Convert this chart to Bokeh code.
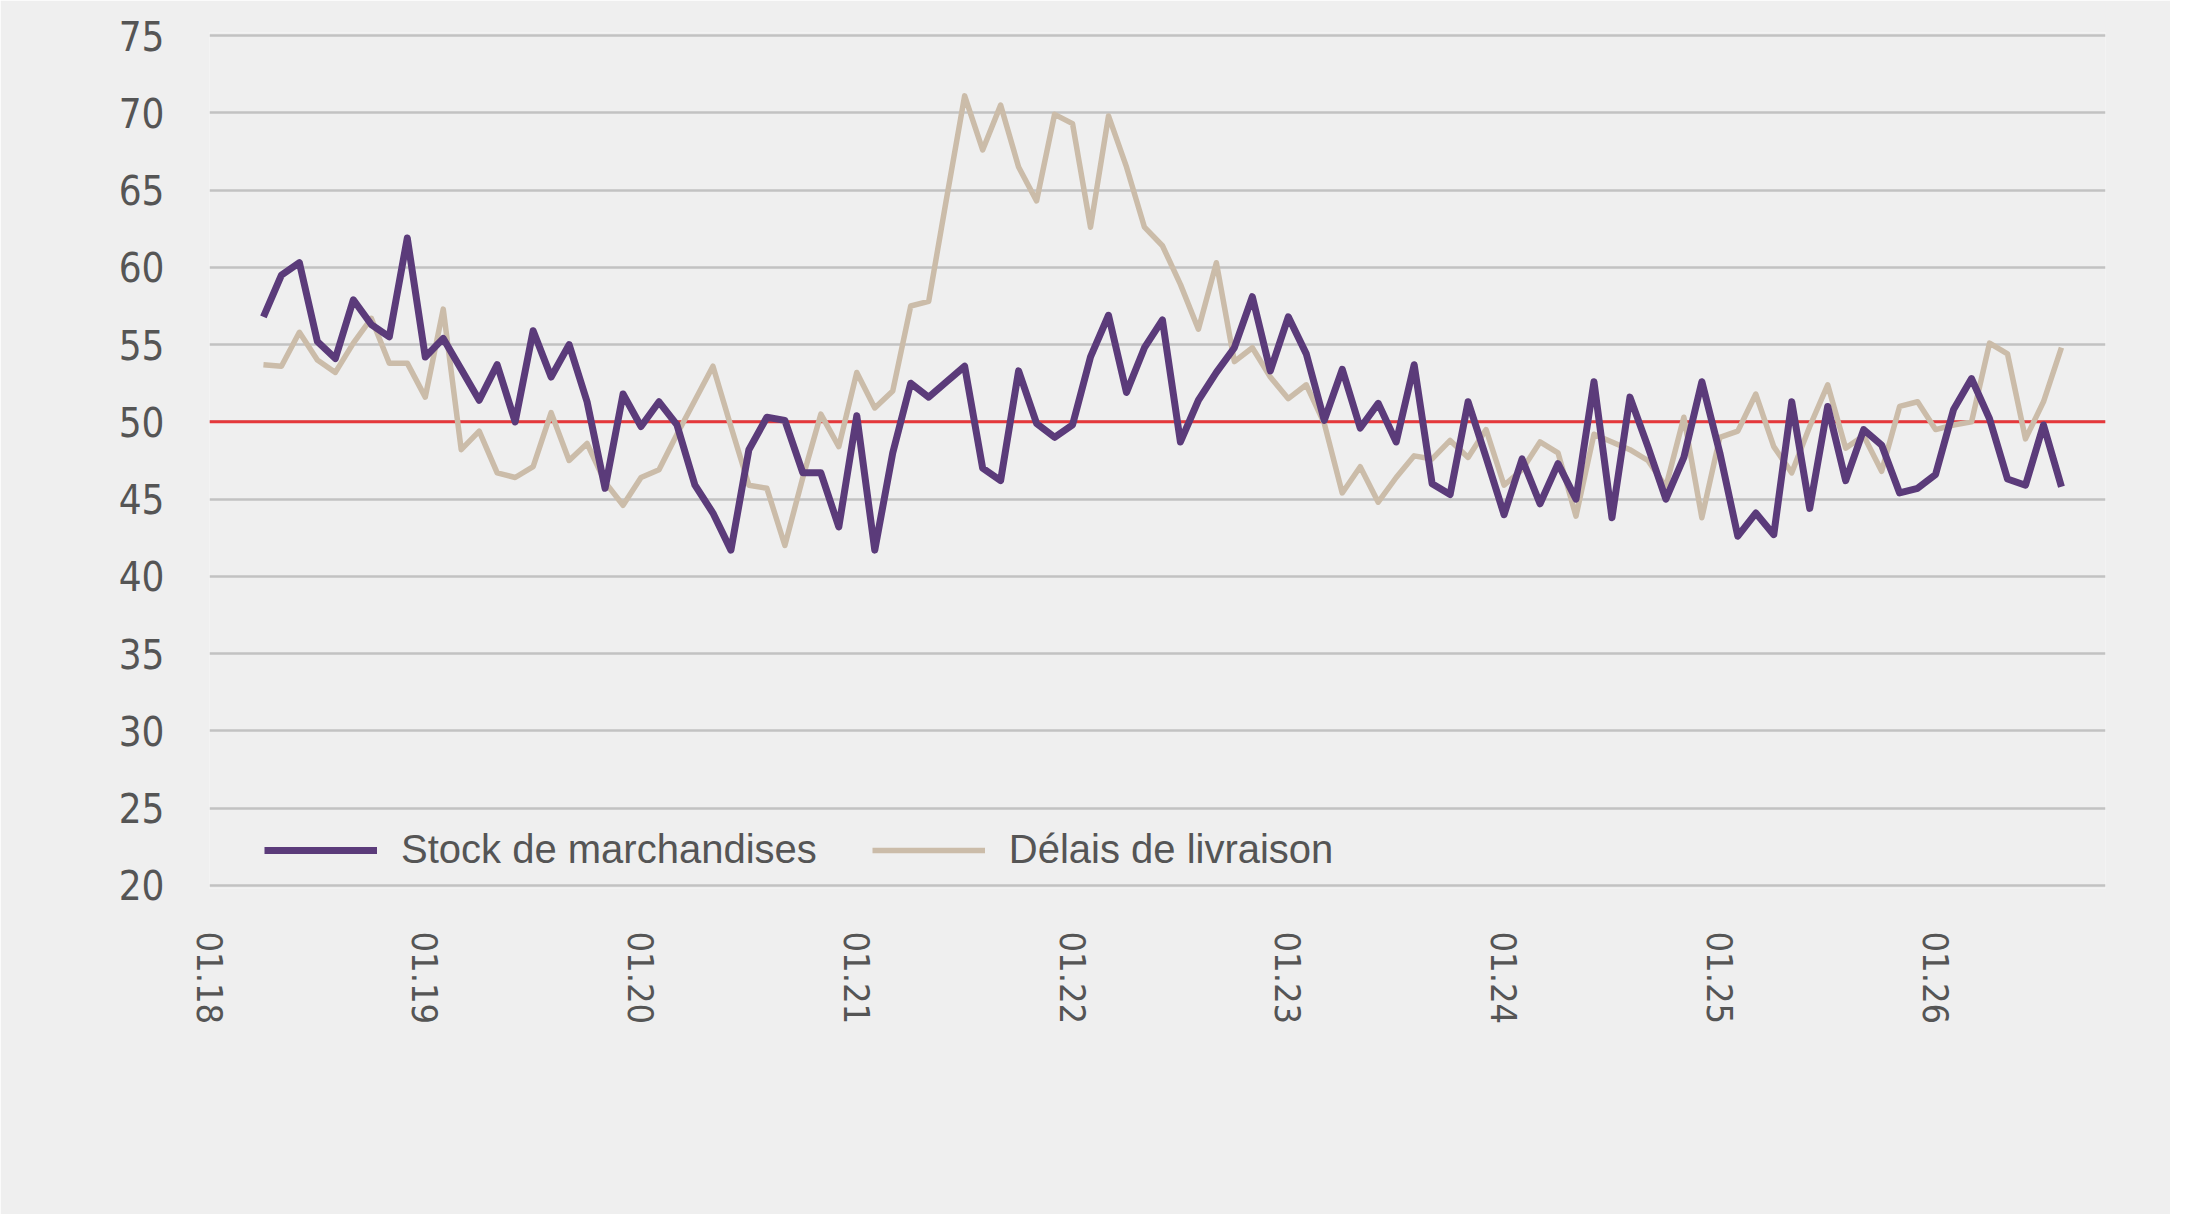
from bokeh.plotting import figure
from bokeh.models import Range1d, FixedTicker, Span, Legend, LegendItem
from bokeh.embed import file_html
from bokeh.resources import INLINE

# monthly PMI sub-indices, first value = 04.2018
stock = [56.8, 59.5, 60.3, 55.2, 54.1, 57.9, 56.3, 55.5, 61.9, 54.2,
         55.4, 53.4, 51.4, 53.7, 50.0, 55.9, 52.9, 55.0, 51.3, 45.7,
         51.8, 49.7, 51.3, 49.8, 45.9, 44.1, 41.7, 48.2, 50.3, 50.1,
         46.7, 46.7, 43.2, 50.4, 41.7, 48.0, 52.5, 51.6, 52.6, 53.6,
         47.0, 46.2, 53.3, 49.9, 49.0, 49.8, 54.2, 56.9, 51.9, 54.8,
         56.6, 48.7, 51.4, 53.2, 54.8, 58.1, 53.3, 56.8, 54.4, 50.1,
         53.4, 49.6, 51.2, 48.7, 53.7, 46.0, 45.3, 51.3, 47.7, 44.0,
         47.6, 44.7, 47.3, 45.0, 52.6, 43.8, 51.6, 48.4, 45.0, 47.7,
         52.6, 48.0, 42.6, 44.1, 42.7, 51.3, 44.4, 51.0, 46.2, 49.5,
         48.5, 45.4, 45.7, 46.6, 50.8, 52.8, 50.2, 46.3, 45.9, 49.8,
         45.8]
delais = [53.7, 53.6, 55.8, 54.0, 53.2, 55.1, 56.7, 53.8, 53.8, 51.6,
          57.3, 48.2, 49.4, 46.7, 46.4, 47.1, 50.6, 47.5, 48.6, 46.1,
          44.6, 46.4, 46.9, 49.2, 51.4, 53.6, 49.7, 45.9, 45.7, 42.0,
          46.4, 50.5, 48.4, 53.2, 50.9, 52.0, 57.5, 57.8, 64.5, 71.1,
          67.6, 70.5, 66.5, 64.3, 69.9, 69.3, 62.6, 69.8, 66.5, 62.6,
          61.4, 58.9, 56.0, 60.3, 53.9, 54.8, 52.9, 51.5, 52.4, 49.9,
          45.4, 47.1, 44.8, 46.4, 47.8, 47.6, 48.8, 47.7, 49.5, 45.9,
          46.9, 48.7, 48.0, 43.9, 49.2, 48.7, 48.2, 47.5, 45.8, 50.3,
          43.8, 49.0, 49.4, 51.8, 48.4, 46.7, 49.7, 52.4, 48.3, 49.1,
          46.8, 51.0, 51.3, 49.5, 49.8, 50.0, 55.1, 54.4, 48.9, 51.3,
          54.8]
year_labels = ["01.18", "01.19", "01.20", "01.21", "01.22",
               "01.23", "01.24", "01.25", "01.26"]
y_ticks = [20, 25, 30, 35, 40, 45, 50, 55, 60, 65, 70, 75]
threshold = 50

first_month = 3  # months after 01.18
months = list(range(first_month, first_month + len(stock)))
tick_pos = [12 * i for i in range(len(year_labels))]

bg = "#efefef"
text_col = "#555555"
tick_font = "DejaVu Sans Condensed, Liberation Sans"

p = figure(width=2170, height=1214,
           x_range=Range1d(0, 105.45), y_range=Range1d(19.8, 75.2),
           output_backend="svg", toolbar_location=None, tools="",
           min_border_left=209, min_border_right=65,
           min_border_top=32, min_border_bottom=326)
p.background_fill_color = bg
p.border_fill_color = bg
p.outline_line_color = None

p.xgrid.grid_line_color = None
p.ygrid.grid_line_color = "#c2c2c2"
p.ygrid.grid_line_width = 2.5

p.yaxis.ticker = FixedTicker(ticks=y_ticks)
p.xaxis.ticker = FixedTicker(ticks=tick_pos)
p.xaxis.major_label_overrides = dict(zip(tick_pos, year_labels))
p.xaxis.major_label_orientation = "vertical"

for ax in (p.xaxis, p.yaxis):
    ax.axis_line_color = None
    ax.major_tick_line_color = None
    ax.minor_tick_line_color = None
    ax.major_tick_out = 0
    ax.major_tick_in = 0
    ax.major_label_text_color = text_col
    ax.major_label_text_font = tick_font
p.yaxis.major_label_text_font_size = "40px"
p.xaxis.major_label_text_font_size = "36px"
p.yaxis.major_label_standoff = 45
p.xaxis.major_label_standoff = 43

p.add_layout(Span(location=threshold, dimension="width", line_color="#e5383b",
                  line_width=3, level="underlay"))

r_tan = p.line(months, delais, line_color="#cbbca9", line_width=5.5,
               line_join="round")
r_pur = p.line(months, stock, line_color="#5b3b7a", line_width=7,
               line_join="round")

legend = Legend(items=[LegendItem(label="Stock de marchandises", renderers=[r_pur]),
                       LegendItem(label="Délais de livraison", renderers=[r_tan])],
                orientation="horizontal", location=(55, 16),
                background_fill_alpha=0, border_line_color=None,
                padding=0, margin=0, spacing=55,
                glyph_width=113, glyph_height=40, label_height=40,
                label_standoff=24,
                label_text_font="Liberation Sans", label_text_font_size="40px",
                label_text_color=text_col)
p.add_layout(legend)

open("out.html", "w").write(file_html(p, INLINE))
